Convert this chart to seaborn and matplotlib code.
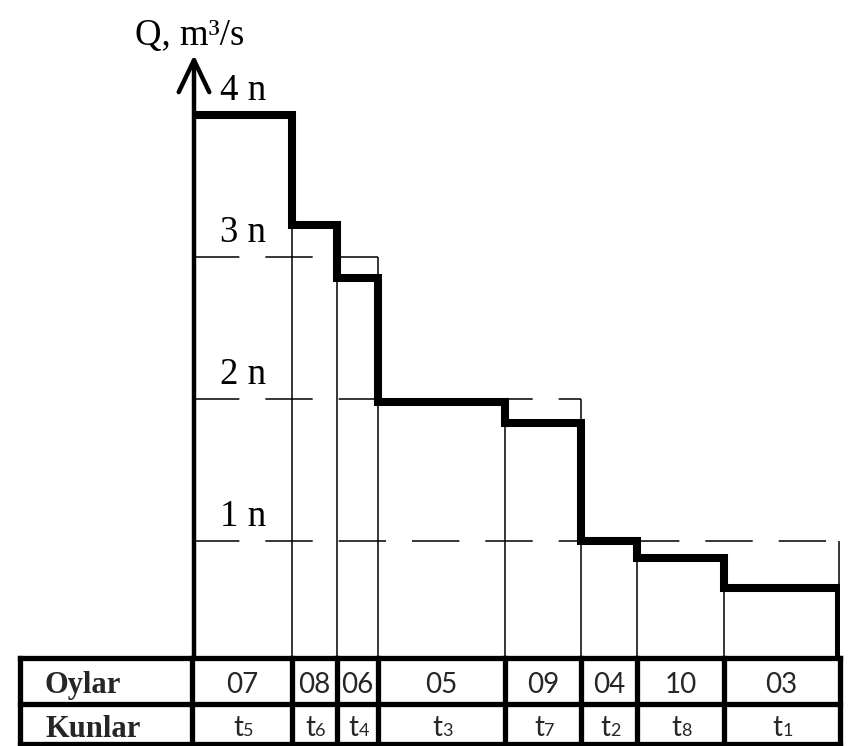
import numpy as np
import pandas as pd
import matplotlib
matplotlib.use("Agg")
import matplotlib.pyplot as plt
import seaborn as sns

# ---- data -------------------------------------------------------------
months = ["07", "08", "06", "05", "09", "04", "10", "03"]
period_idx = ["5", "6", "4", "3", "7", "2", "8", "1"]
durations = [100, 45, 41, 127, 76, 56, 87, 115]        # step widths (t_i)
discharge = [4.0, 3.22, 2.85, 1.98, 1.83, 1.0, 0.88, 0.67]   # in units of n
levels = [1, 2, 3, 4]
level_labels = ["1 n", "2 n", "3 n", "4 n"]
guide_levels = [1, 2, 3]
guide_end_month = ["03", "09", "06"]
row_titles = ["Oylar", "Kunlar"]
y_title = "Q, m\u00b3/s"

# ---- style ------------------------------------------------------------
sns.set_theme(style="white")
plt.rcParams["font.family"] = ["Liberation Serif", "DejaVu Serif"]
SANS = ["Lato", "DejaVu Sans"]

W, H = 851, 746
fig = plt.figure(figsize=(W / 100, H / 100), dpi=100)
fig.patch.set_facecolor("white")


def fx(px):
    return px / W


def fy(py):
    return 1 - py / H


x_left, x_right = -172, 648
y_bottom, y_top = 0.174, 4.42

ax = fig.add_axes([fx(20), fy(658), fx(840) - fx(20), fy(55) - fy(658)])
tab = fig.add_axes([fx(20), fy(744), fx(840) - fx(20), fy(658) - fy(744)])

edges = np.concatenate([[0], np.cumsum(durations)])

# ---- stepped duration curve ------------------------------------------
step = pd.DataFrame({
    "t": list(edges) + [edges[-1]],
    "Q": discharge + [discharge[-1], y_bottom],
})
sns.lineplot(data=step, x="t", y="Q", ax=ax, sort=False, estimator=None,
             drawstyle="steps-post", color="black", lw=5.8,
             solid_joinstyle="miter", solid_capstyle="butt", zorder=5)

# thin verticals under each step change
ax.vlines(edges[1:-1], y_bottom, discharge[1:], color="black", lw=1.1,
          zorder=2)

# dashed guide lines at whole multiples of n
for lvl, m in zip(guide_levels, guide_end_month):
    i = months.index(m)
    end = edges[i + 1]
    ax.hlines(lvl, 0, end, colors="black", lw=1.1,
              linestyles=[(0, (31, 17))], zorder=2)
    ax.vlines(end, discharge[i], lvl, colors="black", lw=1.1, zorder=2)

for lvl, lab in zip(levels, level_labels):
    ax.text(28, lvl + 0.1, lab, fontsize=26.5, ha="left", va="baseline",
            color="black")

# vertical axis with open arrow head
ax.annotate("", xy=(2, y_top), xytext=(2, y_bottom),
            arrowprops=dict(arrowstyle="->,head_length=2.3,head_width=1.1",
                            lw=3.2, color="black", mutation_scale=10,
                            shrinkA=0, shrinkB=0),
            annotation_clip=False, zorder=6)

fig.text(fx(135), fy(45), y_title, fontsize=26.5, ha="left",
         va="baseline", color="black")

ax.set_xlim(x_left, x_right)
ax.set_ylim(y_bottom, y_top)
ax.set_axis_off()

# ---- month / period table --------------------------------------------
tab.set_xlim(x_left, x_right)
tab.set_ylim(0, 1)
tab.set_axis_off()
mid_row = 40 / 86
tlw = 3.8
for yy in [0, mid_row, 1]:
    tab.plot([x_left, x_right], [yy, yy], color="black", lw=tlw,
             solid_capstyle="projecting", clip_on=False)
for xx in [x_left] + list(edges[:-1]) + [x_right]:
    tab.plot([xx, xx], [0, 1], color="black", lw=tlw,
             solid_capstyle="projecting", clip_on=False)

base_top = (744 - 693) / 86
base_bot = (744 - 735.5) / 86
tab.text(x_left + 25, base_top, row_titles[0], fontsize=22,
         fontweight="bold", ha="left", va="baseline")
tab.text(x_left + 25, (744 - 737) / 86, row_titles[1], fontsize=22,
         fontweight="bold", ha="left", va="baseline")

centers = (edges[:-1] + edges[1:]) / 2
for c, m, k in zip(centers, months, period_idx):
    tab.text(c, base_top, m, fontsize=20, family=SANS, ha="center",
             va="baseline")
    tab.text(c + 1, base_bot, "t", fontsize=20, family=SANS, ha="right",
             va="baseline")
    tab.text(c + 1, base_bot, k, fontsize=13, family=SANS, ha="left",
             va="baseline")

fig.savefig("out.png", dpi=100, facecolor="white")
